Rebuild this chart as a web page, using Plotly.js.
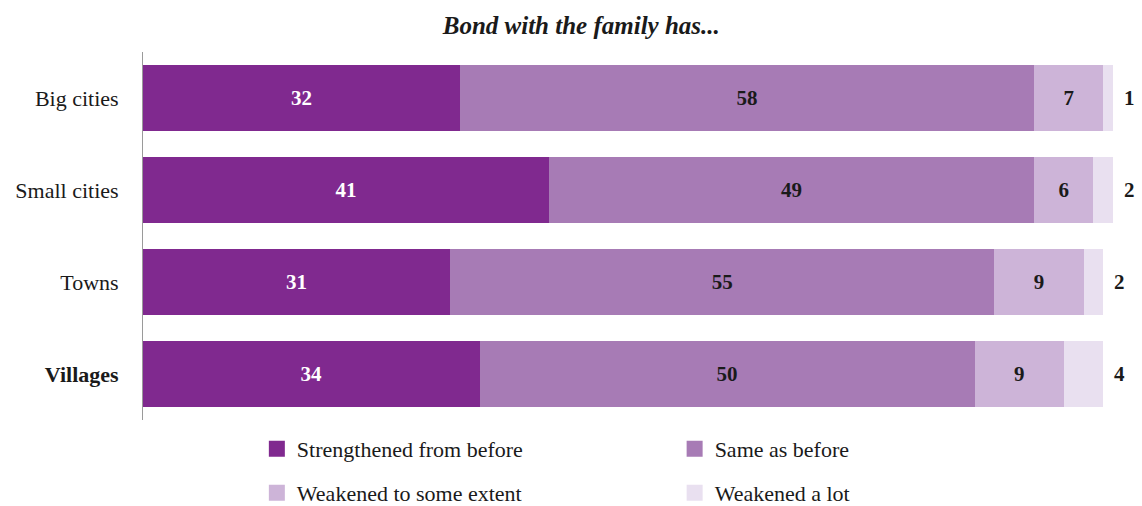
<!DOCTYPE html>
<html>
<head>
<meta charset="utf-8">
<script src="https://cdn.plot.ly/plotly-3.0.1.min.js"></script>
<style>html,body{margin:0;padding:0;background:#fff;}#chart{width:1142px;height:506px;}</style>
</head>
<body>
<div id="chart"></div>
<script>
const categories = ['Big cities', 'Small cities', 'Towns', 'Villages'];
const tickLabels = ['Big cities', 'Small cities', 'Towns', '<b>Villages</b>'];
const seriesNames = ['Strengthened from before', 'Same as before', 'Weakened to some extent', 'Weakened a lot'];
const strengthened = [32, 41, 31, 34];
const sameAsBefore = [58, 49, 55, 50];
const weakenedSome = [7, 6, 9, 9];
const weakenedLot = [1, 2, 2, 4];

const colors = ['#80298f', '#a77bb5', '#cdb4d8', '#e9e0f0'];
const textColors = ['#ffffff', '#1a1a1a', '#1a1a1a', '#1a1a1a'];
const FONT = '"Liberation Serif", "DejaVu Serif", serif';
const series = [strengthened, sameAsBefore, weakenedSome, weakenedLot];
const legendIds = ['legend', 'legend2', 'legend3', 'legend4'];

const traces = series.map((vals, i) => ({
  type: 'bar',
  orientation: 'h',
  y: categories,
  x: vals,
  name: seriesNames[i],
  marker: {color: colors[i]},
  text: i < 3 ? vals.map(String) : undefined,
  textposition: i < 3 ? 'inside' : 'none',
  insidetextanchor: 'middle',
  textfont: {family: FONT, size: 21, color: textColors[i], weight: 'bold'},
  hoverinfo: 'x+name',
  showlegend: false
}));

// legend entries (square markers), one legend box per entry
series.forEach((vals, i) => {
  traces.push({
    type: 'scatter',
    mode: 'markers',
    x: [null],
    y: [categories[0]],
    name: seriesNames[i],
    marker: {symbol: 'square', size: 20, color: colors[i]},
    legend: legendIds[i],
    showlegend: true,
    hoverinfo: 'skip'
  });
});

const annotations = categories.map((c, k) => ({
  x: strengthened[k] + sameAsBefore[k] + weakenedSome[k] + weakenedLot[k],
  y: c,
  xref: 'x', yref: 'y',
  text: '<b>' + weakenedLot[k] + '</b>',
  showarrow: false,
  xanchor: 'left',
  xshift: 9,
  font: {family: FONT, size: 21, color: '#1a1a1a'}
}));

function legendAt(x, y) {
  return {
    orientation: 'v',
    xanchor: 'left',
    yanchor: 'middle',
    x: x, y: y,
    font: {family: FONT, size: 22, color: '#1a1a1a'},
    bgcolor: 'rgba(0,0,0,0)',
    borderwidth: 0
  };
}
const colX = [0.115, 0.537];
const rowY = [-0.079, -0.198];

const layout = {
  width: 1142,
  height: 506,
  margin: {l: 143, r: 9, t: 52, b: 86, autoexpand: false},
  paper_bgcolor: '#ffffff',
  plot_bgcolor: '#ffffff',
  barmode: 'stack',
  bargap: 0.28,
  title: {
    text: '<b><i>Bond with the family has...</i></b>',
    x: 0.509, xanchor: 'center',
    y: 0.95, yanchor: 'middle',
    font: {family: FONT, size: 25, color: '#1a1a1a'}
  },
  xaxis: {
    range: [0, 100],
    showgrid: false, zeroline: false, showline: false,
    showticklabels: false, ticks: '', fixedrange: true
  },
  yaxis: {
    type: 'category',
    autorange: 'reversed',
    tickvals: categories,
    ticktext: tickLabels,
    showgrid: false, zeroline: false,
    showline: true, linecolor: '#9a9a9a', linewidth: 1,
    ticks: '',
    ticklabelstandoff: 19,
    tickfont: {family: FONT, size: 22, color: '#1a1a1a'},
    fixedrange: true
  },
  legend: legendAt(colX[0], rowY[0]),
  legend2: legendAt(colX[1], rowY[0]),
  legend3: legendAt(colX[0], rowY[1]),
  legend4: legendAt(colX[1], rowY[1]),
  annotations: annotations,
  showlegend: true
};

Plotly.newPlot('chart', traces, layout, {displayModeBar: false, staticPlot: true});
</script>
</body>
</html>
